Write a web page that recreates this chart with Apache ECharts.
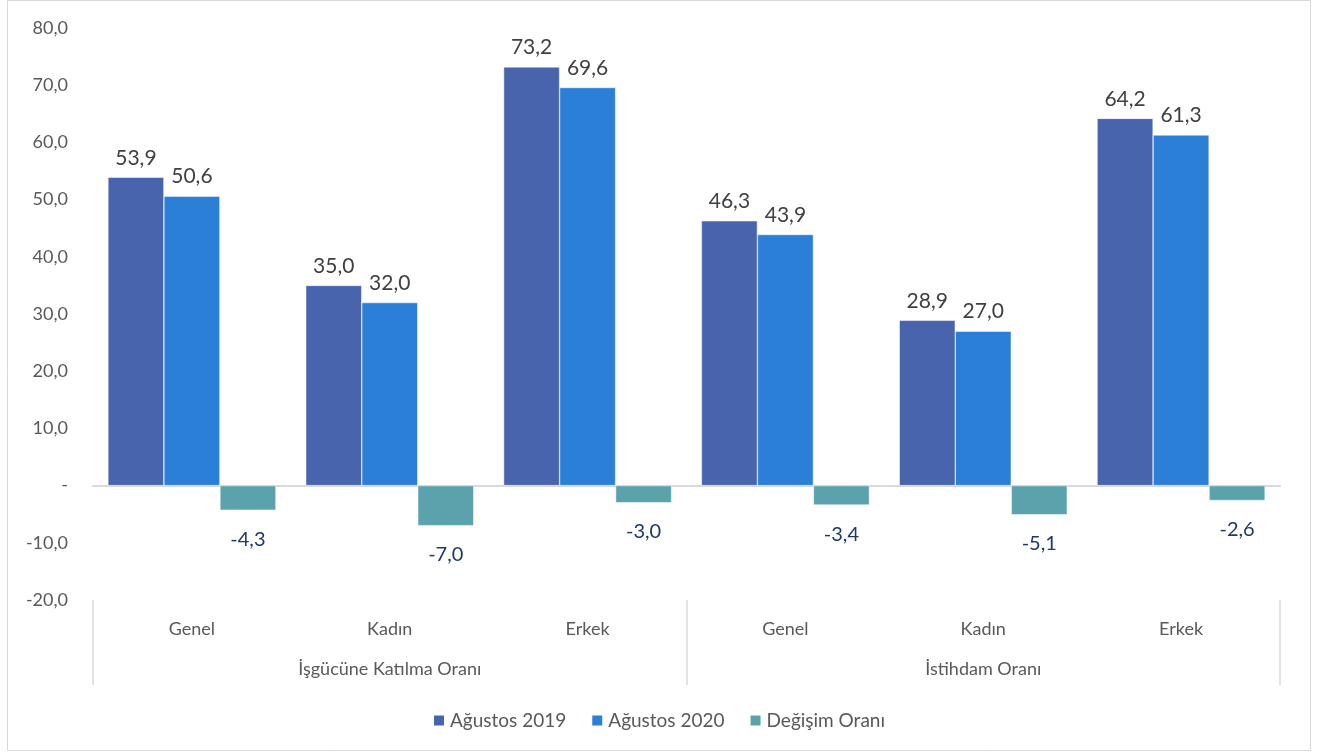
<!DOCTYPE html>
<html>
<head>
<meta charset="utf-8">
<script src="https://cdn.jsdelivr.net/npm/echarts@6/dist/echarts.min.js"></script>
<style>
  html, body { margin: 0; padding: 0; background: #fff; }
  #chart { width: 1317px; height: 755px; }
</style>
</head>
<body>
<div id="chart"></div>
<script>
// kategoriler
const subCategories = ['Genel', 'Kadın', 'Erkek', 'Genel', 'Kadın', 'Erkek']
const groupCategories = ['İşgücüne Katılma Oranı', 'İstihdam Oranı']
const seriesNames = ['Ağustos 2019', 'Ağustos 2020', 'Değişim Oranı']

// değerler
const aug2019 = [53.9, 35.0, 73.2, 46.3, 28.9, 64.2]
const aug2020 = [50.6, 32.0, 69.6, 43.9, 27.0, 61.3]
const degisim = [-4.3, -7.0, -3.0, -3.4, -5.1, -2.6]

const FONT = 'Lato'
const fmt = (v) => Number(v).toFixed(1).replace('.', ',')

const chart = echarts.init(document.getElementById('chart'))

const posLabel = {
  show: true,
  position: 'top',
  distance: 9,
  fontFamily: FONT,
  fontSize: 21,
  color: '#404040',
  formatter: (p) => fmt(p.value),
}

const option = {
  animation: false,
  textStyle: { fontFamily: FONT },
  graphic: [
    {
      type: 'rect',
      shape: { x: 7.5, y: 0.5, width: 1303, height: 750 },
      style: { fill: 'none', stroke: '#d9d9d9', lineWidth: 1 },
      silent: true,
    },
  ],
  legend: {
    data: seriesNames,
    top: 706,
    left: 'center',
    itemWidth: 12,
    itemHeight: 12,
    itemGap: 24,
    icon: 'rect',
    textStyle: { fontFamily: FONT, fontSize: 19, color: '#595959' },
  },
  grid: {
    left: 93,
    right: 37,
    top: 28,
    bottom: 155,
  },
  xAxis: [
    {
      type: 'category',
      data: subCategories,
      position: 'bottom',
      axisLine: { show: false, onZero: false },
      axisTick: { show: false },
      axisLabel: { margin: 20, fontFamily: FONT, fontSize: 18, color: '#595959' },
    },
    {
      type: 'category',
      data: groupCategories,
      position: 'bottom',
      axisLine: { show: false, onZero: false },
      axisTick: { show: true, length: 85, lineStyle: { color: '#d9d9d9', width: 1.5 } },
      axisLabel: { margin: 60, fontFamily: FONT, fontSize: 18, color: '#595959' },
    },
    {
      type: 'category',
      data: subCategories,
      position: 'bottom',
      axisLine: { show: true, onZero: true, lineStyle: { color: '#d9d9d9', width: 2 } },
      axisTick: { show: false },
      axisLabel: { show: false },
    },
  ],
  yAxis: {
    type: 'value',
    min: -20,
    max: 80,
    interval: 10,
    axisLine: { show: false },
    axisTick: { show: false },
    splitLine: { show: false },
    axisLabel: {
      margin: 25,
      fontFamily: FONT,
      fontSize: 18,
      color: '#595959',
      formatter: (v) => (v === 0 ? '-' : fmt(v)),
    },
  },
  series: [
    {
      name: seriesNames[0],
      type: 'bar',
      xAxisIndex: 0,
      data: aug2019,
      barWidth: 56,
      barGap: '0%',
      itemStyle: { color: '#4864ad', borderColor: '#ffffff', borderWidth: 0.5 },
      label: posLabel,
    },
    {
      name: seriesNames[1],
      type: 'bar',
      xAxisIndex: 0,
      data: aug2020,
      barWidth: 56,
      barGap: '0%',
      itemStyle: { color: '#2b7fd7', borderColor: '#ffffff', borderWidth: 0.5 },
      label: posLabel,
    },
    {
      name: seriesNames[2],
      type: 'bar',
      xAxisIndex: 0,
      data: degisim,
      barWidth: 56,
      barGap: '0%',
      itemStyle: { color: '#5ba2ac', borderColor: '#ffffff', borderWidth: 0.5 },
      label: {
        show: true,
        position: 'bottom',
        distance: 19,
        fontFamily: FONT,
        fontSize: 20,
        color: '#1f3864',
        formatter: (p) => fmt(p.value),
      },
    },
  ],
}

chart.setOption(option)
</script>
</body>
</html>
